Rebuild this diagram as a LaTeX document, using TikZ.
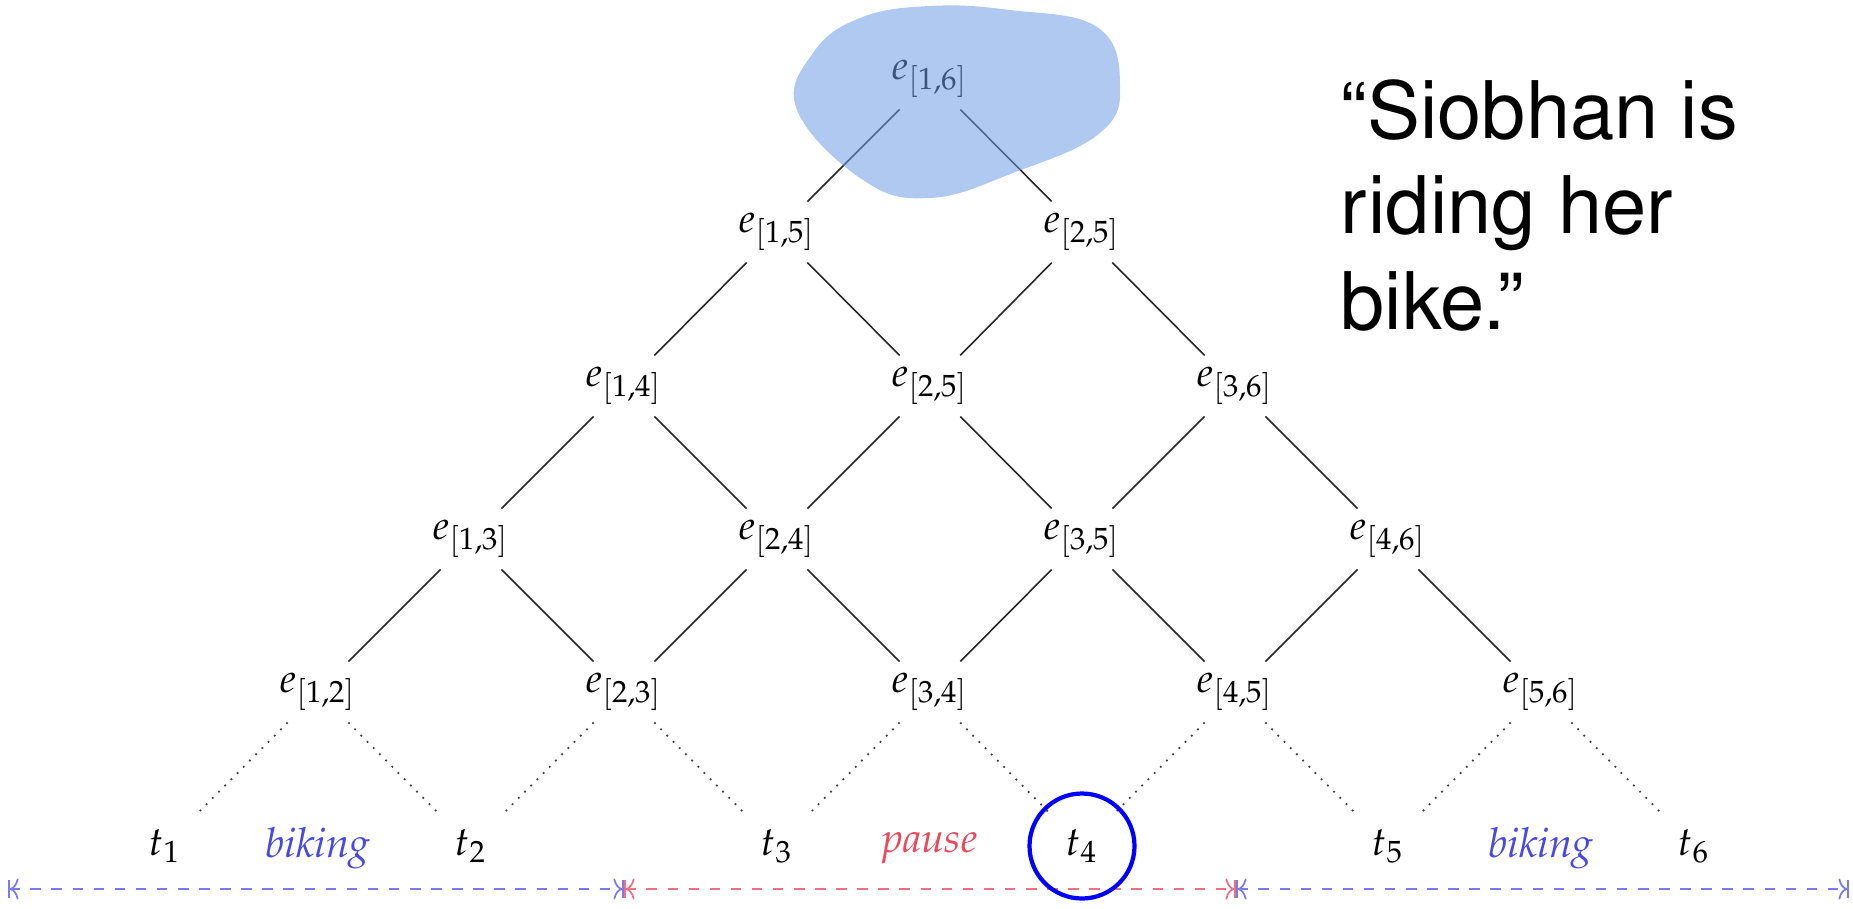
\documentclass[tikz,border=0pt]{standalone}
\usepackage[T1]{fontenc}
\usepackage{mathpazo}
\usepackage{helvet}
\usepackage{xcolor}
\usepackage{tikz}
\usetikzlibrary{arrows.meta}
\definecolor{blobblue}{RGB}{109,157,230}
\definecolor{spanblue}{RGB}{122,122,240}
\definecolor{spanred}{RGB}{240,112,130}
\definecolor{lblblue}{RGB}{72,72,228}
\definecolor{lblred}{RGB}{236,72,92}
\begin{document}
\begin{tikzpicture}[font=\fontsize{11.5}{14}\selectfont,
  ev/.style={circle,minimum size=8.4mm,inner sep=0pt},
  ln/.style={black!85,line width=0.45pt},
  dt/.style={dotted,black!75,line width=0.5pt},
  span/.style={dashed,line width=0.5pt,{Bar[width=5pt]To[length=2.5pt,width=6pt]}-{To[length=2.5pt,width=6pt]Bar[width=5pt]}},
  act/.style={font=\fontsize{11.8}{14}\selectfont\itshape},
  hilite/.style={draw=blue,line width=1.2pt},
  blob/.style={fill=blobblue,fill opacity=0.55},
  quote/.style={font=\fontsize{22.6}{27.2}\selectfont\sffamily,align=left,inner sep=0pt}]
\useasboundingbox (0,0) rectangle (18.53,9.08);
% top
\node[ev] (e16) at (9.30,8.29) {$e_{[1,6]}$};
% row 2
\node[ev] (e15) at (7.77,6.76) {$e_{[1,5]}$};
\node[ev] (e25u) at (10.82,6.76) {$e_{[2,5]}$};
% row 3
\node[ev] (e14) at (6.24,5.22) {$e_{[1,4]}$};
\node[ev] (e25d) at (9.30,5.22) {$e_{[2,5]}$};
\node[ev] (e36) at (12.35,5.22) {$e_{[3,6]}$};
% row 4
\node[ev] (e13) at (4.71,3.69) {$e_{[1,3]}$};
\node[ev] (e24) at (7.77,3.69) {$e_{[2,4]}$};
\node[ev] (e35) at (10.82,3.69) {$e_{[3,5]}$};
\node[ev] (e46) at (13.88,3.69) {$e_{[4,6]}$};
% row 5
\node[ev] (e12) at (3.18,2.16) {$e_{[1,2]}$};
\node[ev] (e23) at (6.24,2.16) {$e_{[2,3]}$};
\node[ev] (e34) at (9.30,2.16) {$e_{[3,4]}$};
\node[ev] (e45) at (12.35,2.16) {$e_{[4,5]}$};
\node[ev] (e56) at (15.41,2.16) {$e_{[5,6]}$};
% time points
\node[ev] (t1) at (1.65,0.62) {$t_1$};
\node[ev] (t2) at (4.71,0.62) {$t_2$};
\node[ev] (t3) at (7.77,0.62) {$t_3$};
\node[ev] (t4) at (10.82,0.62) {$t_4$};
\node[ev] (t5) at (13.88,0.62) {$t_5$};
\node[ev] (t6) at (16.94,0.62) {$t_6$};
\draw[ln] (e16)--(e15); \draw[ln] (e16)--(e25u);
\draw[ln] (e15)--(e14); \draw[ln] (e15)--(e25d); \draw[ln] (e25u)--(e25d); \draw[ln] (e25u)--(e36);
\draw[ln] (e14)--(e13); \draw[ln] (e14)--(e24); \draw[ln] (e25d)--(e24); \draw[ln] (e25d)--(e35);
\draw[ln] (e36)--(e35); \draw[ln] (e36)--(e46);
\draw[ln] (e13)--(e12); \draw[ln] (e13)--(e23); \draw[ln] (e24)--(e23); \draw[ln] (e24)--(e34);
\draw[ln] (e35)--(e34); \draw[ln] (e35)--(e45); \draw[ln] (e46)--(e45); \draw[ln] (e46)--(e56);
\draw[dt] (e12)--(t1); \draw[dt] (e12)--(t2); \draw[dt] (e23)--(t2); \draw[dt] (e23)--(t3);
\draw[dt] (e34)--(t3); \draw[dt] (e34)--(t4); \draw[dt] (e45)--(t4); \draw[dt] (e45)--(t5);
\draw[dt] (e56)--(t5); \draw[dt] (e56)--(t6);
% activities on the time line
\node[act,text=lblblue] (bk1) at (3.18,0.60) {biking};
\node[act,text=lblred] (ps) at (9.30,0.60) {pause};
\node[act,text=lblblue] (bk2) at (15.41,0.60) {biking};
\coordinate (s0) at (0.08,0.19);
\coordinate (s1) at (6.24,0.19);
\coordinate (s2) at (12.36,0.19);
\coordinate (s3) at (18.49,0.19);
\draw[span,spanblue] (s0)--(s1);
\draw[span,spanred] (s1)--(s2);
\draw[span,spanblue] (s2)--(s3);
\draw[hilite] (t4) circle[radius=5.25mm];
% the focus blob over the root
\path[blob] plot[smooth cycle,tension=0.7] coordinates {(8.13,8.55) (8.60,8.90) (9.30,9.02) (10.10,8.98) (10.97,8.81) (11.20,8.25) (11.00,7.75) (10.13,7.35) (9.30,7.10) (8.63,7.28) (7.97,7.98)};
\node[quote,anchor=north west] (sent) at (13.40,8.29) {``Siobhan is\\riding her\\bike.''};
\end{tikzpicture}
\end{document}
